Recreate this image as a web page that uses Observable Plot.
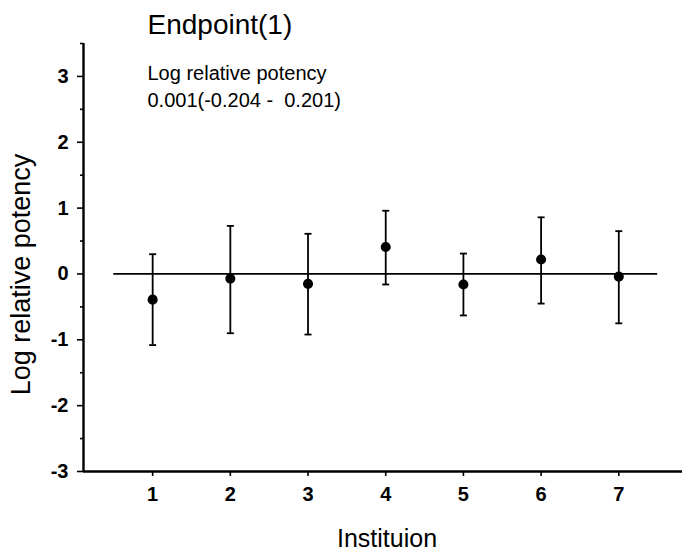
<!DOCTYPE html>
<html>
<head>
<meta charset="utf-8">
<script src="https://cdn.jsdelivr.net/npm/d3@7"></script>
<script src="https://cdn.jsdelivr.net/npm/@observablehq/plot@0.6"></script>
<style>
  html, body { margin: 0; padding: 0; background: #fff; }
  #chart svg { display: block; font-family: "Liberation Sans", Arial, sans-serif; }
  #chart svg text { white-space: pre; }
</style>
</head>
<body>
<div id="chart"></div>
<script>
// Data
const institutions = [1, 2, 3, 4, 5, 6, 7];
const estimates = [-0.39, -0.07, -0.15, 0.41, -0.16, 0.22, -0.04];
const lower = [-1.08, -0.90, -0.92, -0.16, -0.63, -0.45, -0.75];
const upper = [0.30, 0.73, 0.61, 0.96, 0.31, 0.86, 0.65];

const yTicks = [-3, -2, -1, 0, 1, 2, 3];
const yMinorTicks = [-2.5, -1.5, -0.5, 0.5, 1.5, 2.5, 3.5];
const xTicks = [1, 2, 3, 4, 5, 6, 7];
const xDomain = [0.11, 7.82];
const yDomain = [-3, 3.5];
const refValue = 0;
const refExtent = [0.5, 7.5];

const titleText = "Endpoint(1)";
const noteLines = ["Log relative potency", "0.001(-0.204 -  0.201)"];
const xLabel = "Instituion";
const yLabel = "Log relative potency";

const data = institutions.map((inst, i) => ({
  inst, est: estimates[i], lo: lower[i], hi: upper[i]
}));

const capSymbol = {
  draw(context, size) {
    const w = 3.5;
    context.moveTo(-w, 0);
    context.lineTo(w, 0);
  }
};

const chart = Plot.plot({
  width: 682,
  height: 553,
  marginLeft: 83,
  marginRight: 0,
  marginTop: 43,
  marginBottom: 82,
  style: { fontFamily: "'Liberation Sans', Arial, sans-serif", background: "#fff", color: "#000" },
  x: { domain: xDomain, label: null },
  y: { domain: yDomain, label: null },
  marks: [
    // tick marks (labels drawn separately below)
    Plot.axisY(yMinorTicks, { tickSize: 3, tickFormat: () => "", strokeWidth: 1.6 }),
    Plot.axisY(yTicks, { tickSize: 6, tickFormat: () => "", strokeWidth: 1.6 }),
    Plot.axisX(xTicks, { tickSize: 5, tickFormat: () => "", strokeWidth: 1.6 }),
    // tick labels
    Plot.text(yTicks, { y: d => d, text: d => String(d), frameAnchor: "left", dx: -15, textAnchor: "end",
      lineAnchor: "middle", fontSize: 20, fontWeight: "bold", fill: "black" }),
    Plot.text(xTicks, { x: d => d, text: d => String(d), frameAnchor: "bottom", dy: 23, textAnchor: "middle",
      lineAnchor: "middle", fontSize: 20, fontWeight: "bold", fill: "black" }),
    // axis lines
    Plot.ruleX([xDomain[0]], { strokeWidth: 2.4 }),
    Plot.ruleY([yDomain[0]], { strokeWidth: 2.4 }),
    // reference line at 0
    Plot.ruleY([refValue], { x1: refExtent[0], x2: refExtent[1], strokeWidth: 1.8 }),
    // error bars
    Plot.ruleX(data, { x: "inst", y1: "lo", y2: "hi", strokeWidth: 1.8 }),
    Plot.dot(data, { x: "inst", y: "lo", symbol: capSymbol, stroke: "black", strokeWidth: 1.8, fill: "none" }),
    Plot.dot(data, { x: "inst", y: "hi", symbol: capSymbol, stroke: "black", strokeWidth: 1.8, fill: "none" }),
    Plot.dot(data, { x: "inst", y: "est", r: 4.3, fill: "black", stroke: "black" }),
    // title and note
    Plot.text([titleText], { frameAnchor: "top-left", dx: 64, dy: -18, fontSize: 28, textAnchor: "start",
      lineAnchor: "middle", text: d => d, fill: "black" }),
    Plot.text([noteLines[0]], { frameAnchor: "top-left", dx: 64, dy: 30, fontSize: 20, textAnchor: "start",
      lineAnchor: "middle", text: d => d, fill: "black", style: "letter-spacing:0.1px" }),
    Plot.text([noteLines[1]], { frameAnchor: "top-left", dx: 64, dy: 57, fontSize: 20, textAnchor: "start",
      lineAnchor: "middle", text: d => d, fill: "black", style: "letter-spacing:0.4px" }),
    // axis titles
    Plot.text([xLabel], { frameAnchor: "bottom", dx: 4, dy: 67, fontSize: 25, text: d => d, fill: "black", lineAnchor: "middle" }),
    Plot.text([yLabel], { frameAnchor: "left", dx: -62, dy: 17, rotate: -90, fontSize: 27, textAnchor: "middle",
      text: d => d, fill: "black", lineAnchor: "middle" })
  ]
});

document.getElementById("chart").appendChild(chart);
</script>
</body>
</html>
